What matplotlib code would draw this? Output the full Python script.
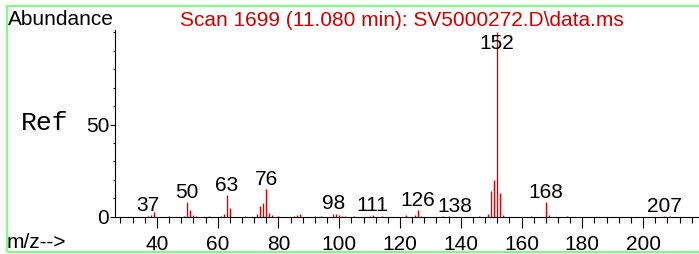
import matplotlib.pyplot as plt
from matplotlib.patches import Rectangle

# spectrum (m/z vs relative abundance, % of base peak)
mz = [37, 38, 39, 44, 49, 50, 51, 52, 53, 57, 61, 62, 63, 64, 69,
      73, 74, 75, 76, 77, 78, 80, 85, 86, 87, 92, 94, 98, 99, 100,
      101, 102, 105, 110, 111, 114, 122, 125, 126, 127, 134, 136, 146,
      149, 150, 151, 152, 153, 154, 163, 168, 169, 175, 207, 209]
abundance = [0.6, 0.8, 2.5, 0.3, 0.6, 7.8, 3.6, 0.9, 0.6, 0.3, 0.6, 1.5, 11.7, 4.9, 0.3,
             1.2, 5.8, 7.6, 14.8, 1.8, 0.8, 0.5, 0.6, 0.8, 1.4, 0.5, 0.5, 1.6, 1.6, 0.7,
             0.6, 0.5, 0.3, 0.6, 0.7, 0.3, 0.8, 1.0, 3.6, 0.4, 0.3, 0.3, 0.3,
             1.6, 13.9, 19.8, 100.0, 13.0, 1.0, 0.3, 7.8, 0.8, 0.3, 0.3, 0.3]
labelled = [37, 50, 63, 76, 98, 111, 126, 138, 152, 168, 207]

title = "Scan 1699 (11.080 min): SV5000272.D\\data.ms"

W, H = 699, 254
fig = plt.figure(figsize=(W / 100, H / 100), dpi=100)
plt.rcParams['font.family'] = ['Liberation Sans', 'DejaVu Sans']
FS = 15

ax = fig.add_axes([115 / W, 1 - 216.7 / H, (W - 115) / W, (216.7 - 30) / H])
ax.vlines(mz, 0, abundance, color='#dd0000', lw=1.0)
ax.set_xlim(26.2, 218.4)
ax.set_ylim(0, 101.3)

for s in ['top', 'right']:
    ax.spines[s].set_visible(False)
for s in ['left', 'bottom']:
    ax.spines[s].set_linewidth(0.8)

ax.set_xticks(range(40, 201, 20))
ax.set_xticks(range(28, 218, 4), minor=True)
ax.set_yticks([0, 50])
ax.set_yticks(range(10, 101, 10), minor=True)
ax.tick_params(axis='x', which='major', length=8, width=0.8, pad=5, labelsize=FS)
ax.tick_params(axis='x', which='minor', length=4.3, width=0.8)
ax.tick_params(axis='y', which='major', length=3.6, width=0.8, pad=0.5, labelsize=FS)
ax.tick_params(axis='y', which='minor', length=1.5, width=0.8)

# peak labels
lookup = dict(zip(mz, abundance))
ytop = ax.get_ylim()[1]
for m in labelled:
    h = lookup.get(m, 0)
    if h > ytop * 0.8:
        ax.annotate(str(m), (m, ytop), xytext=(0, -14), textcoords='offset points',
                    ha='center', va='baseline', fontsize=FS)
    else:
        ax.annotate(str(m), (m, h), xytext=(0, 3.1), textcoords='offset points',
                    ha='center', va='baseline', fontsize=FS)

fig.text(8 / W, 1 - 25 / H, "Abundance", fontsize=FS, va='baseline')
fig.text(180 / W, 1 - 26.5 / H, title, fontsize=FS, color='#cc0000', va='baseline')
fig.text(21 / W, 1 - 130 / H, "Ref", fontsize=19, family=['Liberation Mono'], va='baseline')
fig.text(7 / W, 1 - 248 / H, "m/z-->", fontsize=FS, va='baseline')

fig.patches.append(Rectangle((7 / W, 1 - 252 / H), 720 / W, (252 - 5.7) / H,
                             transform=fig.transFigure, fill=False,
                             edgecolor='#80ff80', lw=1.5))

fig.savefig("out.png", dpi=100)
